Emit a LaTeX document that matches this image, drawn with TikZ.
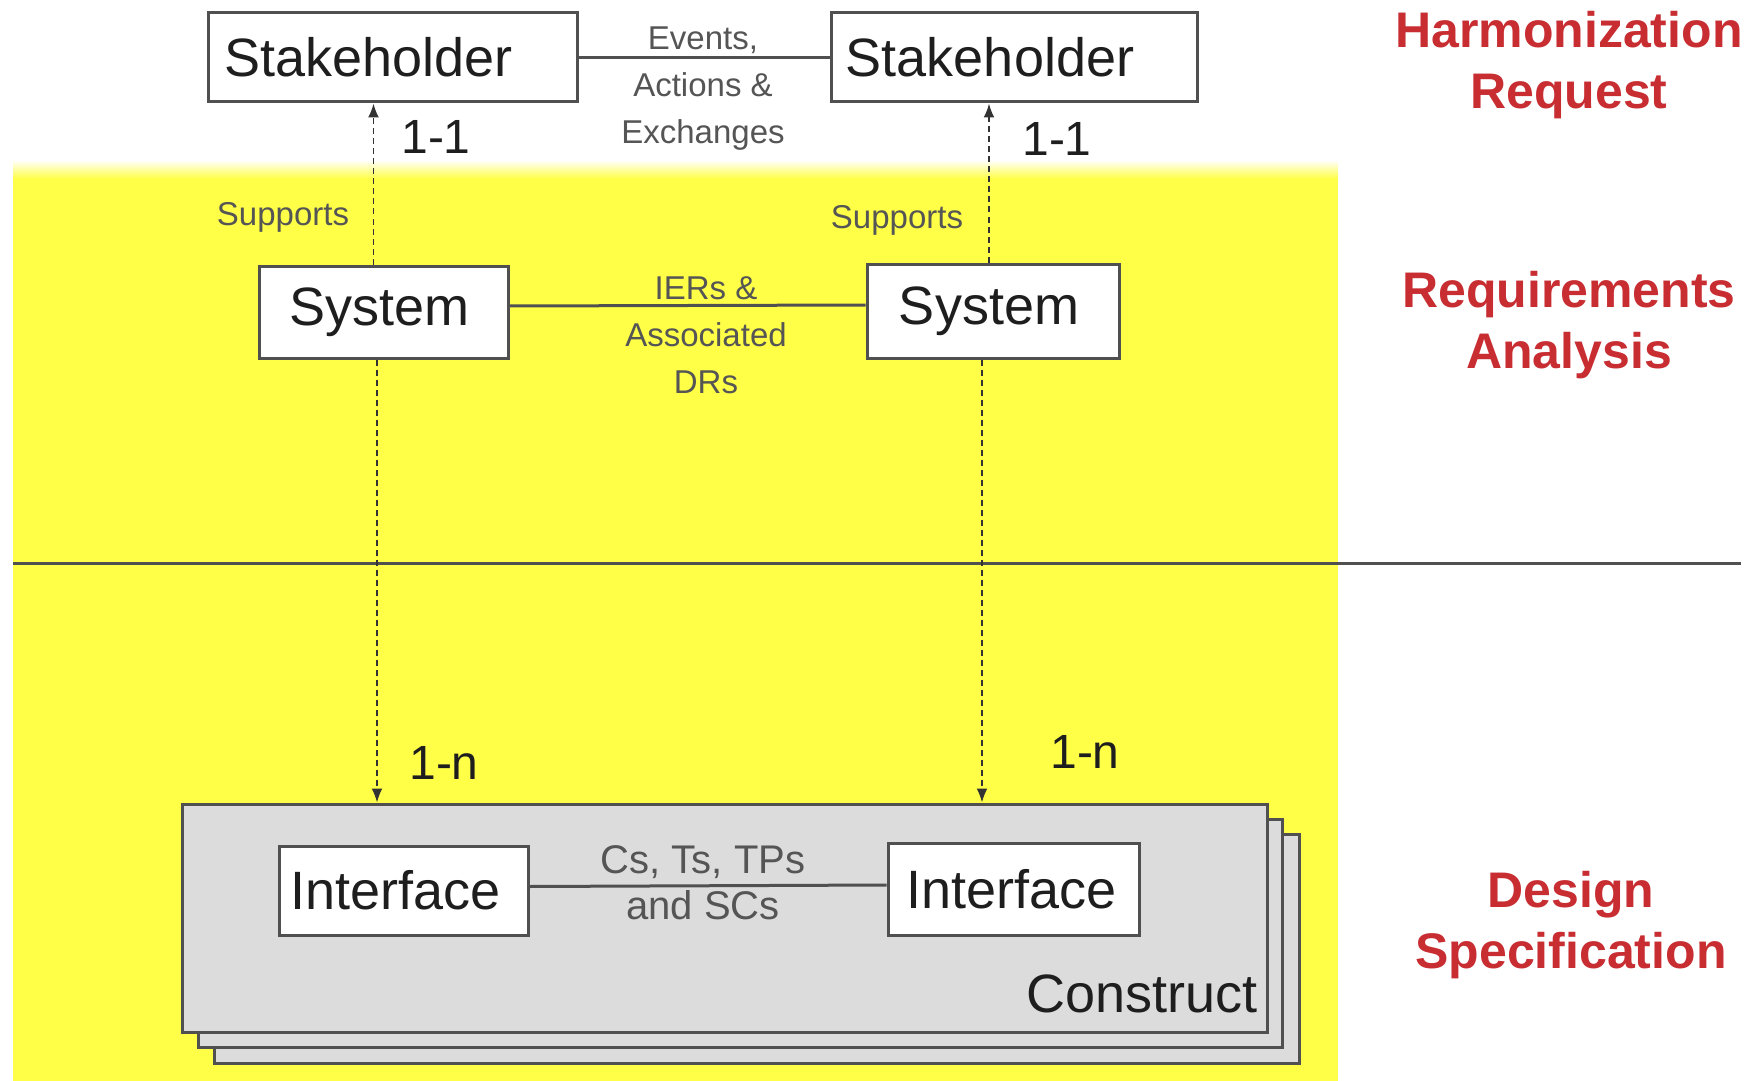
\documentclass[tikz,border=0pt]{standalone}
\usepackage{fontspec}
\setmainfont{Liberation Sans}
\usetikzlibrary{arrows.meta}
\definecolor{yel}{RGB}{255,255,72}
\definecolor{boxline}{RGB}{80,80,80}
\definecolor{txt}{RGB}{30,30,30}
\definecolor{lbl}{RGB}{85,85,85}
\definecolor{phasecol}{RGB}{200,45,50}
\definecolor{cgray}{RGB}{220,220,220}
\begin{document}
\begin{tikzpicture}[x=0.5pt,y=-0.5pt,
 entity/.style={draw=boxline, line width=1.5pt, fill=white, inner sep=0pt, font=\fontsize{27}{30}\selectfont, text=txt},
 link/.style={draw=boxline, line width=1.5pt},
 dlink/.style={draw=black!80, line width=0.9pt, dash pattern=on 3pt off 2pt, -{Latex[length=7pt,width=5.5pt]}},
 small/.style={font=\fontsize{16.5}{23.5}\selectfont, text=lbl, align=center},
 mult/.style={font=\fontsize{24}{28}\selectfont, text=txt},
 phase/.style={font=\bfseries\fontsize{25}{30.5}\selectfont, text=phasecol, align=center},
 layer/.style={draw=boxline, line width=1.5pt, fill=cgray, inner sep=0pt}]

\useasboundingbox (0,0) rectangle (1763,1081);
\fill[white] (0,0) rectangle (1763,1081);
\fill[yel] (13,178) rectangle (1338,1081);
\shade[top color=white, bottom color=yel] (13,160) rectangle (1338,178.5);
\draw[boxline, line width=1.5pt] (13,563) -- (1741,563);

% construct stack
\node[layer, minimum width=542.5pt, minimum height=114.5pt] (c3) at (756.5,948.5) {};
\node[layer, minimum width=542pt, minimum height=114pt] (c2) at (740,933) {};
\node[layer, minimum width=542.5pt, minimum height=114pt] (c1) at (724.5,918) {};
\node[anchor=east, font=\fontsize{27}{30}\selectfont, text=txt, inner sep=0pt] (ctext) at (1258,994) {Construct};

% entities
\node[entity, minimum width=184.5pt, minimum height=44.5pt] (sh1) at (392.5,57.5) {Stakeholder\hspace*{24pt}};
\node[entity, minimum width=183pt, minimum height=44.5pt] (sh2) at (1014,57.5) {Stakeholder\hspace*{24pt}};
\node[entity, minimum width=124.5pt, minimum height=46pt] (sy1) at (383.5,312) {System\hspace*{4pt}};
\node[entity, minimum width=126pt, minimum height=47pt] (sy2) at (993,311) {System\hspace*{4pt}};
\node[entity, minimum width=124.5pt, minimum height=44.5pt] (if1) at (403.5,890.5) {Interface\hspace*{8pt}};
\node[entity, minimum width=125.5pt, minimum height=46pt] (if2) at (1013.5,889) {Interface\hspace*{2pt}};

% links
\draw[link] (sh1.east) -- (sh2.west);
\draw[link] ([yshift=3pt]sy1.east) -- ([yshift=3pt]sy2.west);
\draw[link] ([yshift=2pt]if1.east) -- ([yshift=2pt]if2.west);

\draw[dlink] ([xshift=-5pt]sy1.north) -- ([xshift=-5pt]sy1.north |- sh1.south);
\draw[dlink] ([xshift=-2pt]sy2.north) -- ([xshift=-2pt]sy2.north |- sh2.south);
\draw[dlink] ([xshift=-3.25pt]sy1.south) -- ([xshift=-3.25pt]sy1.south |- c1.north);
\draw[dlink] ([xshift=-5.5pt]sy2.south) -- ([xshift=-5.5pt]sy2.south |- c1.north);

% labels
\node[small] (ev) at (703,88.5) {Events,\\Actions \&\\Exchanges};
\node[small] (ier) at (706,335) {IERs \&\\Associated\\DRs};
\node[font=\fontsize{20}{23}\selectfont, text=lbl, align=center] (cs) at (703,883) {Cs, Ts, TPs\\and SCs};
\node[small] (sup1) at (283,217) {Supports};
\node[small] (sup2) at (897,220) {Supports};
\node[mult] (m1) at (436,137) {1-1};
\node[mult] (m2) at (1057,139) {1-1};
\node[mult] (m3) at (444,763) {1-n};
\node[mult] (m4) at (1085,752) {1-n};

\node[phase] (p1) at (1569,65.5) {Harmonization\\Request};
\node[phase] (p2) at (1569,325) {Requirements\\Analysis};
\node[phase] (p3) at (1571,925) {Design\\Specification};
\end{tikzpicture}
\end{document}
